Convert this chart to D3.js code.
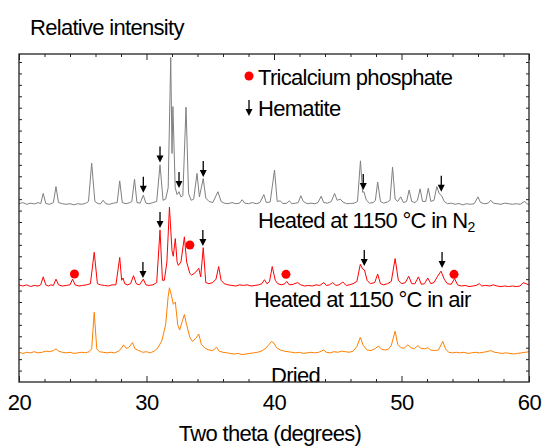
<!DOCTYPE html>
<html>
<head>
<meta charset="utf-8">
<script src="https://cdn.jsdelivr.net/npm/d3@7"></script>
<style>
  html, body { margin: 0; padding: 0; background: #fff; }
  svg text { font-family: "Liberation Sans", Arial, sans-serif; fill: #000; }
</style>
</head>
<body>
<svg id="chart" width="544" height="446"></svg>
<script>
// x = two theta (degrees), y = relative intensity (arbitrary units, traces stacked)
const nitrogen = [
  [20.0,15.6],[20.3,15.7],[20.6,15.55],[20.9,15.65],[21.2,15.58],[21.5,15.7],[21.7,15.6],[21.9,16.5],[22.1,15.62],
  [22.4,15.55],[22.7,15.7],[22.9,17.1],[23.1,15.7],[23.4,15.6],[23.7,15.55],[24.0,15.6],[24.3,15.5],[24.6,15.6],
  [24.9,15.55],[25.2,15.62],[25.45,15.8],[25.7,19.15],[25.95,15.8],[26.2,15.6],[26.4,15.6],[26.6,15.9],[26.8,15.6],
  [27.1,15.55],[27.4,15.65],[27.7,15.7],[27.9,17.6],[28.1,15.7],[28.4,15.6],[28.7,15.7],[28.85,15.8],[29.06,17.75],
  [29.25,15.7],[29.5,15.65],[29.75,16.35],[29.95,15.65],[30.2,15.6],[30.5,15.7],[30.8,15.8],[31.06,19.0],[31.3,15.9],
  [31.5,16.0],[31.7,17.0],[31.9,28.4],[32.0,20.0],[32.07,24.1],[32.25,17.0],[32.4,16.4],[32.55,16.65],[32.7,16.2],
  [32.85,16.3],[33.1,24.05],[33.3,16.5],[33.5,15.9],[33.7,16.0],[33.96,18.25],[34.15,16.2],[34.45,17.8],[34.65,16.1],
  [34.9,15.8],[35.2,15.7],[35.6,16.65],[35.85,15.8],[36.1,15.65],[36.4,15.6],[36.7,15.7],[37.0,15.6],[37.3,15.65],
  [37.5,15.95],[37.7,15.65],[38.0,15.6],[38.3,15.7],[38.6,15.6],[38.9,15.7],[39.2,16.4],[39.4,15.7],[39.7,15.75],
  [40.04,18.55],[40.25,15.8],[40.5,15.85],[40.7,15.6],[41.0,15.65],[41.2,15.85],[41.4,15.6],[41.7,15.65],[41.9,15.7],
  [42.1,16.3],[42.3,15.8],[42.6,15.6],[42.9,15.65],[43.2,15.6],[43.45,15.7],[43.7,16.25],[43.9,15.7],[44.2,15.65],
  [44.5,15.8],[44.75,16.5],[44.95,15.9],[45.2,16.0],[45.4,15.75],[45.7,15.6],[46.0,15.62],[46.3,15.65],[46.55,15.8],
  [46.78,19.35],[46.95,16.6],[47.05,16.65],[47.25,15.9],[47.5,15.65],[47.8,15.7],[47.95,15.9],[48.13,17.5],[48.35,15.8],
  [48.6,15.65],[48.9,15.75],[49.1,15.9],[49.3,18.8],[49.5,16.0],[49.7,15.8],[49.94,16.2],[50.15,15.7],[50.4,15.8],
  [50.6,16.8],[50.8,15.8],[51.05,15.7],[51.25,15.9],[51.46,16.9],[51.65,15.8],[51.9,15.8],[52.1,16.95],[52.3,15.8],
  [52.55,15.9],[52.77,17.1],[52.95,16.5],[53.15,16.3],[53.35,15.8],[53.6,15.6],[53.9,15.65],[54.2,15.55],[54.5,15.62],
  [54.8,15.5],[55.1,15.6],[55.4,15.55],[55.7,15.6],[56.0,16.2],[56.2,15.7],[56.5,15.6],[56.8,15.65],[57.0,15.9],
  [57.2,15.65],[57.5,15.6],[57.8,15.55],[58.1,15.65],[58.4,15.6],[58.7,15.55],[59.0,15.6],[59.3,15.55],[59.66,15.8],
  [59.85,15.6],[60.0,15.5]
];

const air = [
  [20.0,8.5],[20.3,8.4],[20.6,8.5],[20.9,8.35],[21.2,8.45],[21.5,8.4],[21.7,8.5],[21.9,9.2],[22.1,8.5],[22.3,8.4],
  [22.5,8.5],[22.7,8.45],[22.9,9.0],[23.1,8.5],[23.4,8.4],[23.7,8.45],[24.0,8.5],[24.2,9.0],[24.4,8.5],[24.7,8.4],
  [25.0,8.45],[25.3,8.5],[25.6,8.6],[25.9,11.35],[26.15,8.6],[26.4,8.5],[26.7,8.45],[27.0,8.4],[27.3,8.5],[27.6,8.5],
  [27.9,10.9],[28.05,8.9],[28.15,9.1],[28.3,8.6],[28.5,8.5],[28.75,8.6],[28.98,9.3],[29.2,8.6],[29.45,8.5],[29.75,9.0],
  [29.95,8.5],[30.2,8.45],[30.5,8.5],[30.8,8.7],[31.06,13.3],[31.25,8.9],[31.4,8.9],[31.6,10.5],[31.8,15.3],[32.0,11.5],
  [32.1,11.0],[32.26,12.55],[32.4,10.5],[32.5,10.2],[32.7,10.5],[32.97,12.7],[33.15,10.5],[33.4,9.5],[33.55,9.35],
  [33.85,9.6],[34.1,9.95],[34.25,9.2],[34.45,11.75],[34.65,8.7],[34.9,8.6],[35.2,8.7],[35.45,9.0],[35.66,10.1],
  [35.85,8.9],[36.1,8.6],[36.4,8.5],[36.7,8.45],[37.0,8.4],[37.3,8.5],[37.6,8.45],[37.9,8.5],[38.2,8.4],[38.5,8.45],
  [38.8,8.5],[39.05,8.6],[39.25,8.95],[39.45,8.6],[39.65,8.8],[39.86,10.1],[40.1,8.9],[40.3,8.6],[40.6,8.5],[40.85,8.6],
  [41.0,8.8],[41.2,8.5],[41.5,8.55],[41.85,8.7],[42.1,8.5],[42.4,8.4],[42.7,8.45],[43.0,8.4],[43.3,8.5],[43.6,8.45],
  [43.9,8.7],[44.1,8.45],[44.35,8.5],[44.6,8.7],[44.85,8.45],[45.1,8.5],[45.4,8.75],[45.65,8.45],[45.9,8.5],[46.2,8.6],
  [46.5,8.8],[46.77,10.3],[46.95,9.9],[47.1,9.8],[47.3,8.9],[47.55,8.6],[47.9,8.7],[48.13,9.45],[48.35,8.6],[48.6,8.5],
  [48.9,8.6],[49.2,8.8],[49.5,10.8],[49.75,8.9],[50.0,8.6],[50.3,8.7],[50.57,9.25],[50.8,8.6],[51.05,8.6],[51.33,9.2],
  [51.55,8.55],[51.8,8.6],[52.06,9.1],[52.3,8.6],[52.55,8.7],[52.8,9.2],[53.1,9.7],[53.35,9.0],[53.6,8.6],[53.9,8.55],
  [54.16,9.05],[54.4,8.5],[54.7,8.4],[55.0,8.45],[55.3,8.35],[55.6,8.4],[55.85,8.45],[56.1,8.6],[56.3,8.4],[56.6,8.45],
  [56.9,8.4],[57.2,8.5],[57.5,8.4],[57.8,8.35],[58.1,8.4],[58.4,8.35],[58.7,8.4],[59.0,8.35],[59.3,8.4],[59.55,8.7],
  [59.75,8.6],[60.0,8.5]
];

const dried = [
  [20.0,2.6],[20.3,2.5],[20.6,2.6],[20.9,2.55],[21.2,2.65],[21.5,2.55],[21.8,2.6],[22.1,2.7],[22.4,2.65],[22.7,2.75],
  [22.9,2.9],[23.1,2.7],[23.4,2.6],[23.7,2.55],[24.0,2.6],[24.3,2.5],[24.6,2.55],[24.9,2.6],[25.2,2.55],[25.5,2.65],
  [25.7,2.9],[25.9,6.1],[26.1,2.9],[26.3,2.65],[26.6,2.6],[26.9,2.55],[27.2,2.6],[27.5,2.55],[27.8,2.7],[28.0,2.9],
  [28.2,3.25],[28.4,2.95],[28.6,3.0],[28.9,3.45],[29.1,2.9],[29.4,2.75],[29.7,2.6],[30.0,2.65],[30.3,2.55],[30.6,2.7],
  [30.9,3.0],[31.2,3.6],[31.5,5.0],[31.7,7.5],[31.8,8.25],[31.95,7.6],[32.1,6.8],[32.26,7.0],[32.45,5.0],[32.6,4.55],
  [32.8,5.3],[32.97,5.9],[33.15,5.0],[33.4,3.9],[33.6,3.55],[33.85,3.8],[34.1,4.2],[34.3,3.3],[34.6,2.95],[34.9,2.8],
  [35.2,2.75],[35.5,3.05],[35.7,2.7],[36.0,2.6],[36.3,2.55],[36.6,2.5],[36.9,2.45],[37.2,2.5],[37.5,2.4],[37.8,2.45],
  [38.1,2.5],[38.4,2.55],[38.7,2.6],[39.0,2.7],[39.3,2.9],[39.55,3.2],[39.8,3.55],[40.0,3.4],[40.2,3.0],[40.5,2.8],
  [40.8,2.7],[41.1,2.65],[41.4,2.6],[41.7,2.55],[42.0,2.6],[42.3,2.5],[42.6,2.55],[42.9,2.6],[43.2,2.55],[43.5,2.6],
  [43.9,2.8],[44.1,2.6],[44.4,2.55],[44.7,2.65],[45.0,2.6],[45.3,2.7],[45.6,2.65],[45.9,2.6],[46.2,2.7],[46.5,3.1],
  [46.77,3.9],[47.0,3.2],[47.3,2.8],[47.6,2.75],[47.9,2.9],[48.2,3.15],[48.45,2.85],[48.75,2.8],[49.0,2.9],[49.2,3.2],
  [49.5,4.45],[49.7,3.3],[49.95,3.0],[50.2,2.95],[50.5,3.25],[50.75,3.0],[51.0,2.9],[51.3,3.2],[51.5,2.95],[51.8,2.9],
  [52.06,3.0],[52.3,2.8],[52.6,2.75],[52.9,2.8],[53.24,3.55],[53.45,2.9],[53.7,2.6],[54.0,2.55],[54.3,2.6],[54.6,2.55],
  [54.9,2.6],[55.2,2.5],[55.5,2.55],[55.8,2.6],[56.1,2.55],[56.4,2.6],[56.7,2.65],[57.0,2.75],[57.3,2.6],[57.6,2.55],
  [57.9,2.5],[58.2,2.55],[58.5,2.5],[58.8,2.45],[59.1,2.5],[59.4,2.55],[59.7,2.6],[60.0,2.65]
];

// phase markers: [two theta, intensity at marker]
const hematiteN2 = [[29.75,16.55],[31.06,19.2],[32.55,16.97],[34.45,17.94],[47.0,16.8],[53.12,16.65]];
const hematiteAir = [[29.72,9.1],[31.06,13.47],[34.42,11.9],[47.08,10.15],[53.18,9.97]];
const tcpAir = [[24.35,9.45],[33.4,11.99],[40.94,9.42],[54.12,9.42]];

const xMajor = [20, 30, 40, 50, 60];
const xMinor = d3.range(22, 60, 2).filter(v => v % 10 !== 0);
const yMinor = d3.range(1, 29, 1);

const plot = { left: 19, right: 529, top: 54, bottom: 382 };

const svg = d3.select('#chart');

const x = d3.scaleLinear().domain([20, 60]).range([plot.left, plot.right]);
const y = d3.scaleLinear().domain([0, 28.7]).range([plot.bottom, plot.top]);

svg.append('defs').append('clipPath')
  .attr('id', 'plot-clip')
  .append('rect')
  .attr('x', plot.left).attr('y', plot.top)
  .attr('width', plot.right - plot.left).attr('height', plot.bottom - plot.top);

// Traces
const line = d3.line().x(d => x(d[0])).y(d => y(d[1]));
const traces = [
  { data: nitrogen, color: '#808080' },
  { data: air, color: '#ff0000' },
  { data: dried, color: '#ff8000' }
];
svg.append('g').attr('clip-path', 'url(#plot-clip)')
  .selectAll('path.trace')
  .data(traces)
  .join('path')
  .attr('class', 'trace')
  .attr('d', d => line(d.data))
  .style('fill', 'none')
  .style('stroke', d => d.color)
  .style('stroke-width', 1)
  .style('stroke-linejoin', 'round');

// Hematite arrows (pointing down to the peak)
function arrow(g, px, tip) {
  g.append('line')
    .attr('x1', px).attr('x2', px)
    .attr('y1', tip - 16).attr('y2', tip - 6)
    .style('stroke', '#000').style('stroke-width', 1.3);
  g.append('path')
    .attr('d', `M${px - 3.5},${tip - 7}L${px + 3.5},${tip - 7}L${px},${tip}Z`)
    .style('fill', '#000');
}
const markG = svg.append('g').attr('class', 'markers');
hematiteN2.concat(hematiteAir).forEach(d => arrow(markG, x(d[0]), y(d[1])));

markG.selectAll('circle.tcp')
  .data(tcpAir)
  .join('circle')
  .attr('class', 'tcp')
  .attr('cx', d => x(d[0]))
  .attr('cy', d => y(d[1]))
  .attr('r', 4.5)
  .style('fill', '#ff0000');

// Legend
svg.append('circle').attr('cx', 249).attr('cy', 76).attr('r', 4.5).style('fill', '#ff0000');
arrow(svg.append('g'), 249, 116);
const txt = (tx, ty, s, size = 22) => svg.append('text')
  .attr('x', tx).attr('y', ty)
  .style('font-size', size + 'px')
  .style('letter-spacing', '-0.7px')
  .text(s);
txt(258, 85, 'Tricalcium phosphate');
txt(258, 116, 'Hematite');

// Trace labels
const n2 = txt(258, 228, 'Heated at 1150 \u00b0C in N');
n2.append('tspan').attr('dx', 0).attr('dy', 4).style('font-size', '14px').text('2');
txt(254, 307, 'Heated at 1150 \u00b0C in air');
txt(271, 383, 'Dried').attr('clip-path', 'url(#plot-clip)');

// Axes (ticks pointing inward)
function styleAxis(g) {
  g.select('.domain').remove();
  g.selectAll('line').style('stroke', '#222').style('stroke-width', 1);
}
svg.append('g').attr('transform', `translate(0,${plot.bottom})`)
  .call(d3.axisBottom(x).tickValues(xMajor).tickSize(-6).tickFormat(d3.format('d')))
  .call(styleAxis)
  .call(g => g.selectAll('text')
    .attr('y', 28).attr('dy', null)
    .style('font-size', '22px').style('font-family', '"Liberation Sans", Arial, sans-serif')
    .style('letter-spacing', '-0.5px').style('fill', '#000'));
svg.append('g').attr('transform', `translate(0,${plot.bottom})`)
  .call(d3.axisBottom(x).tickValues(xMinor).tickSize(-3).tickFormat(''))
  .call(styleAxis);
svg.append('g').attr('transform', `translate(0,${plot.top})`)
  .call(d3.axisTop(x).tickValues(xMajor).tickSize(-6).tickFormat(''))
  .call(styleAxis);
svg.append('g').attr('transform', `translate(0,${plot.top})`)
  .call(d3.axisTop(x).tickValues(xMinor).tickSize(-3).tickFormat(''))
  .call(styleAxis);
svg.append('g').attr('transform', `translate(${plot.left},0)`)
  .call(d3.axisLeft(y).tickValues(yMinor).tickSize(-3).tickFormat(''))
  .call(styleAxis);
svg.append('g').attr('transform', `translate(${plot.right},0)`)
  .call(d3.axisRight(y).tickValues(yMinor).tickSize(-3).tickFormat(''))
  .call(styleAxis);

// Frame
svg.append('rect')
  .attr('x', plot.left).attr('y', plot.top)
  .attr('width', plot.right - plot.left).attr('height', plot.bottom - plot.top)
  .style('fill', 'none').style('stroke', '#222').style('stroke-width', 1.3);

// Titles
txt(30, 35, 'Relative intensity');
txt(270, 441, 'Two theta (degrees)').attr('text-anchor', 'middle');
</script>
</body>
</html>
